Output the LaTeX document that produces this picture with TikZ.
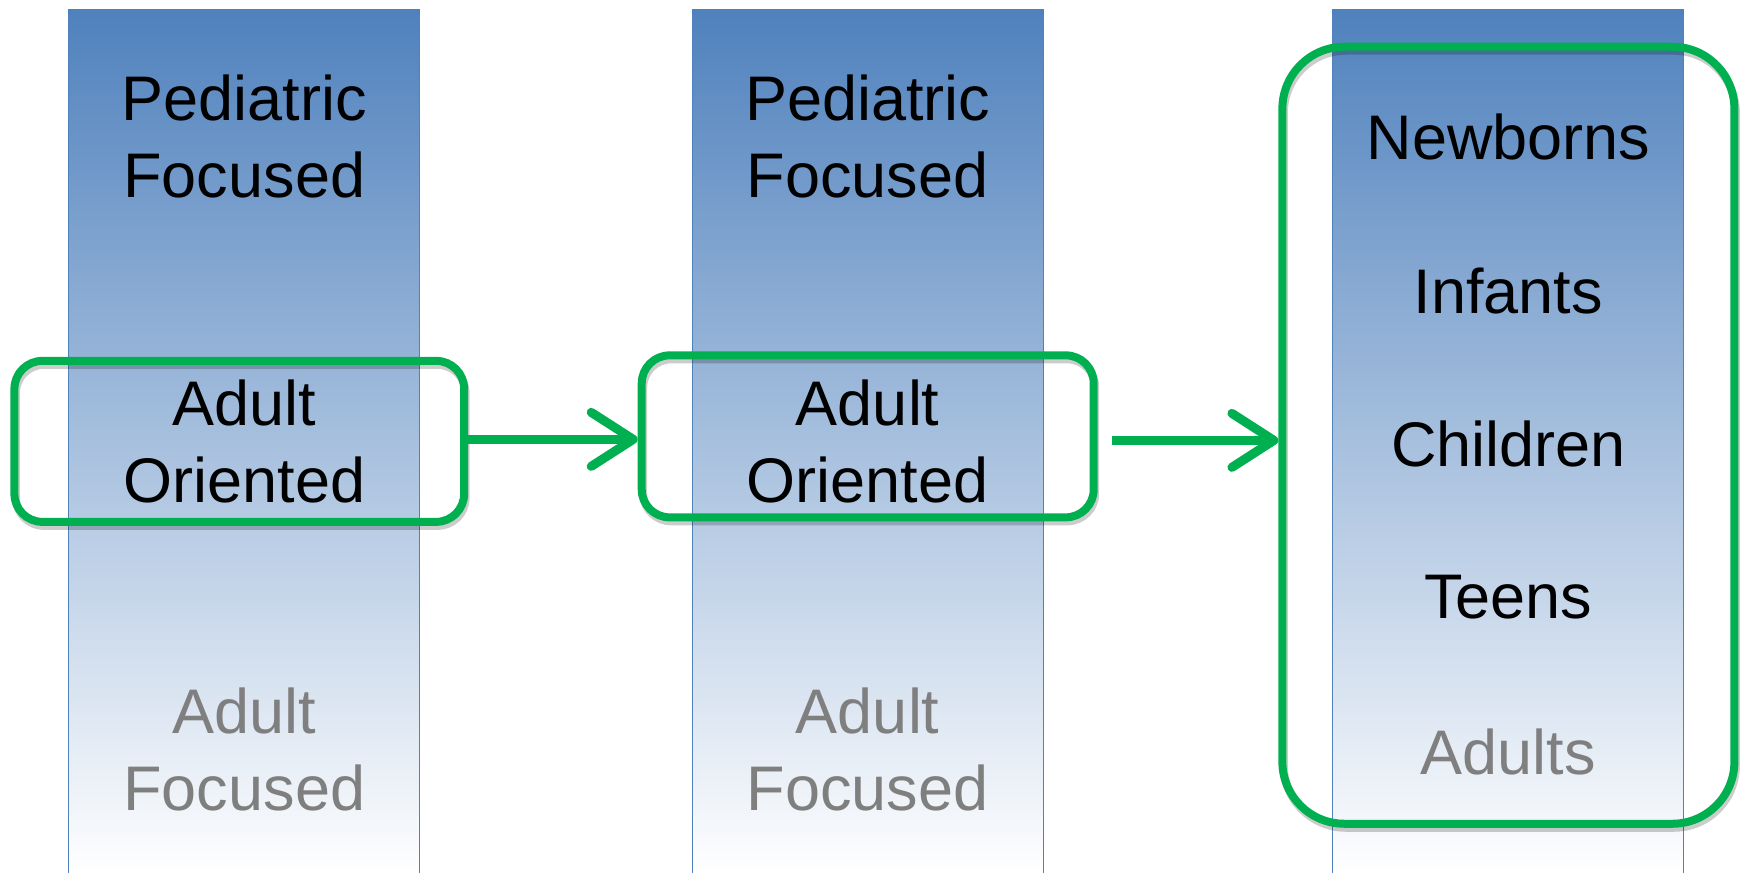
\documentclass[tikz,border=0pt]{standalone}
\usepackage{fontspec}
\setmainfont{Liberation Sans}
\usetikzlibrary{arrows.meta}
\definecolor{barblue}{HTML}{4F81BD}
\definecolor{grn}{HTML}{00B050}
\definecolor{txtgray}{HTML}{7F7F7F}
\begin{document}
\begin{tikzpicture}[x=1.1103pt,y=-1.1103pt,
  bar/.style={draw=barblue, line width=1pt, top color=barblue, bottom color=white,
    minimum width=350.9pt, minimum height=868pt, inner sep=0pt},
  lbl/.style={font=\fontsize{63}{77}\selectfont, align=center, inner sep=0pt},
  dim/.style={lbl, text=txtgray},
  gbox/.style={draw=grn, line width=8pt, inner sep=0pt,
    preaction={draw=black, opacity=0.2, line width=8pt,
      transform canvas={xshift=1.5pt,yshift=-4pt}}},
  garrow/.style={draw=grn, line width=9pt,
    -{Straight Barb[length=42pt,width=54pt,line cap=round,line join=round]},
    preaction={draw=black, opacity=0.15, transform canvas={xshift=1.5pt,yshift=-4pt}}}
]
\useasboundingbox (0,0) rectangle (1568,786);
% bars
\node[bar] (bar1) at (220,399) {};
\node[bar] (bar2) at (781.5,399) {};
\node[bar] (bar3) at (1358.5,399) {};
% column 1
\node[lbl] (p1) at (220,123) {Pediatric\\Focused};
\node[lbl] (o1) at (220,398) {Adult\\Oriented};
\node[dim] (f1) at (220,675) {Adult\\Focused};
% column 2
\node[lbl] (p2) at (781.5,123) {Pediatric\\Focused};
\node[lbl] (o2) at (781.5,398) {Adult\\Oriented};
\node[dim] (f2) at (781.5,675) {Adult\\Focused};
% column 3
\node[lbl] (nb) at (1358.5,123) {Newborns};
\node[lbl] (inf) at (1358.5,262) {Infants};
\node[lbl] (ch) at (1358.5,400) {Children};
\node[lbl] (tn) at (1358.5,538) {Teens};
\node[dim] (ad) at (1358.5,677) {Adults};
% green boxes
\node[gbox, rounded corners=28pt, minimum width=449.7pt, minimum height=161pt] (box1) at (215.5,397.5) {};
\node[gbox, rounded corners=28pt, minimum width=452pt, minimum height=162pt] (box2) at (781.5,393) {};
\node[gbox, rounded corners=62pt, minimum width=452pt, minimum height=777pt] (box3) at (1358.5,392) {};
% arrows
\draw[garrow] ([yshift=2pt]box1.east) -- ([yshift=2pt]box1.east -| box2.west);
\draw[garrow] ([xshift=14pt,yshift=-4pt]box2.east) -- ([yshift=-4pt]box2.east -| box3.west);
\end{tikzpicture}
\end{document}
